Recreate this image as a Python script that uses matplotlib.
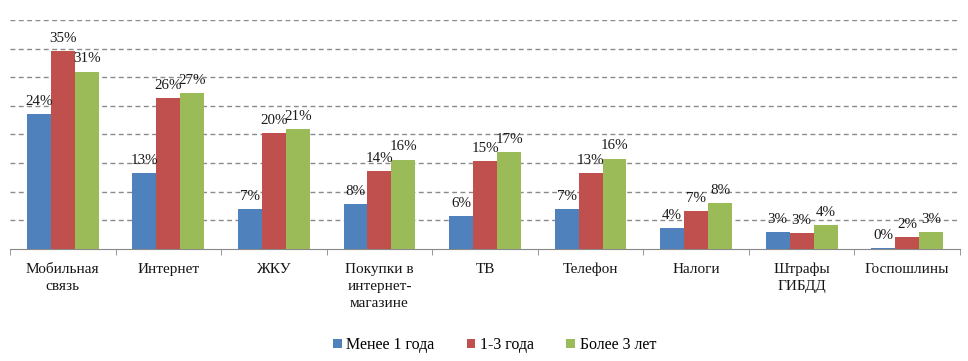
import matplotlib
matplotlib.use("Agg")
import matplotlib.pyplot as plt
import numpy as np

# ── Data ──────────────────────────────────────────────────────────────────────
categories = [
    "Мобильная\nсвязь", "Интернет", "ЖКУ", "Покупки в\nинтернет-\nмагазине",
    "ТВ", "Телефон", "Налоги", "Штрафы\nГИБДД", "Госпошлины",
]
series_names = ["Менее 1 года", "1-3 года", "Более 3 лет"]
less_1y = [23.6, 13.2, 7.0, 7.8, 5.7, 7.0, 3.7, 3.0, 0.2]
from_1_3y = [34.6, 26.4, 20.2, 13.6, 15.3, 13.2, 6.6, 2.8, 2.1]
more_3y = [31.0, 27.2, 20.9, 15.6, 16.9, 15.8, 8.0, 4.2, 3.0]

colors = ["#4F81BD", "#C0504D", "#9BBB59"]
serif = ["Liberation Serif", "DejaVu Serif"]

# ── Plot ──────────────────────────────────────────────────────────────────────
fig = plt.figure(figsize=(9.68, 3.61), dpi=100)
ax = fig.add_axes([10 / 968, 1 - 249 / 361, 950 / 968, 229 / 361])

x = np.arange(len(categories))
width = 0.227
for i, (vals, name, col) in enumerate(zip([less_1y, from_1_3y, more_3y], series_names, colors)):
    pos = x + (i - 1) * width
    ax.bar(pos, vals, width=width, color=col, label=name, zorder=3)
    for px, v in zip(pos, vals):
        ax.text(px, v + 1.1, f"{v:.0f}%", ha="center", va="bottom",
                fontsize=10.8, family=serif, color="#1a1a1a", zorder=4)

ax.set_xlim(-0.5, len(categories) - 0.5)
ax.set_ylim(0, 40)
ax.set_yticks(np.arange(5, 41, 5))
ax.yaxis.grid(True, linestyle=(0, (3.5, 2.5)), color="#8a8a8a", linewidth=1.0)
ax.tick_params(axis="y", left=False, labelleft=False)

# category labels at centres, tick marks at boundaries
ax.set_xticks(x)
ax.set_xticklabels(categories, fontsize=11, family=serif, color="#151515",
                   linespacing=1.4)
ax.tick_params(axis="x", which="major", length=0, pad=10)
ax.set_xticks(np.arange(-0.5, len(categories), 1), minor=True)
ax.tick_params(axis="x", which="minor", length=4, color="#888888")

for side in ["left", "right", "top"]:
    ax.spines[side].set_visible(False)
ax.spines["bottom"].set_color("#888888")

ax.legend(loc="center", bbox_to_anchor=(0.51, -0.42), ncol=3, frameon=False,
          prop={"family": serif, "size": 11.5}, handlelength=0.55, handleheight=0.55,
          handletextpad=0.3, columnspacing=2.0)

fig.savefig("out.png", dpi=100)
plt.close(fig)
